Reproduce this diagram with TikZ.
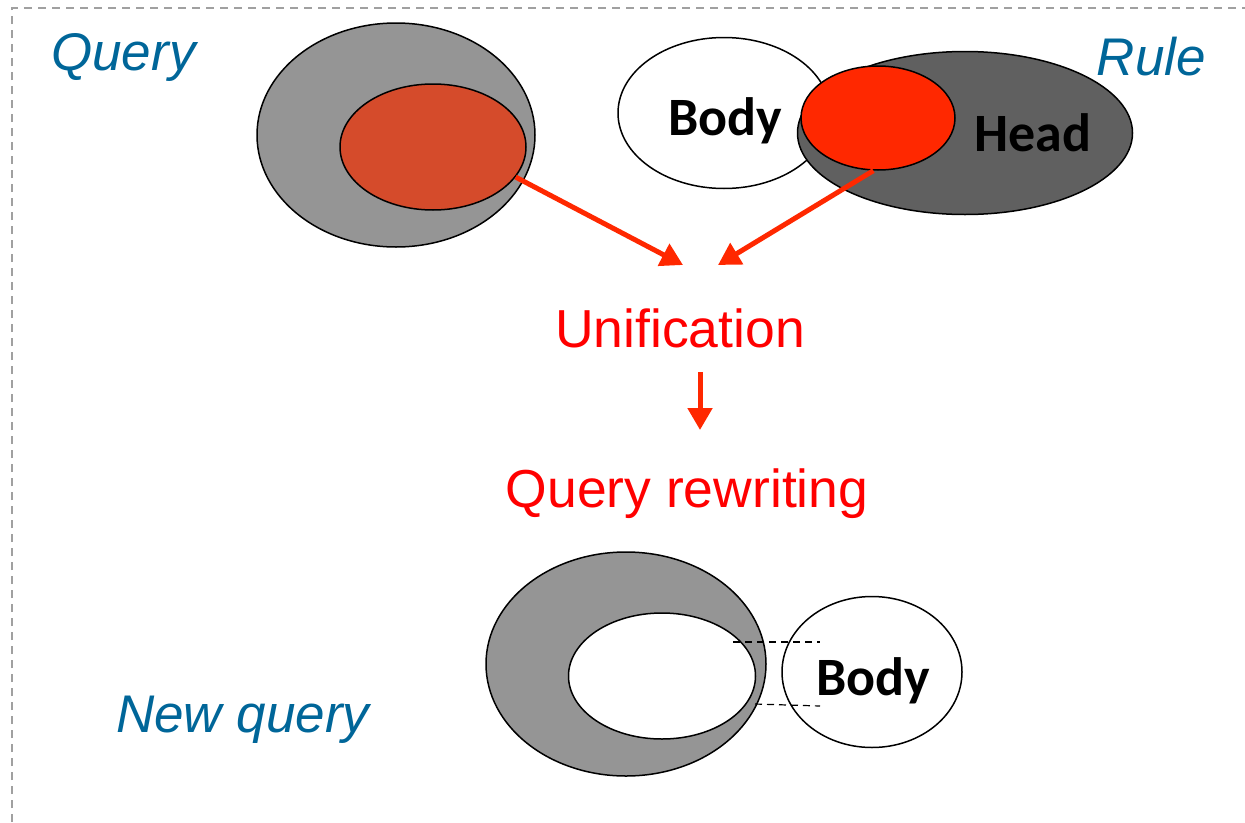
\documentclass[tikz,border=0pt]{standalone}
\usepackage{fontspec}
\setmainfont{Liberation Sans}
\newfontfamily\calibrifont{Carlito}
\usetikzlibrary{arrows.meta,shapes.geometric}
\definecolor{labelblue}{RGB}{0,102,153}
\definecolor{softgray}{RGB}{149,149,149}
\definecolor{darkgray}{RGB}{96,96,96}
\definecolor{brickred}{RGB}{213,75,43}
\definecolor{brightred}{RGB}{255,40,0}
\definecolor{textred}{RGB}{255,0,0}
\definecolor{framegray}{RGB}{160,160,160}
\tikzset{
  blob/.style={ellipse, draw=black, line width=1.5pt, inner sep=0pt},
  title/.style={font=\fontsize{53}{60}\selectfont\itshape, text=labelblue, inner sep=0pt},
  steplabel/.style={font=\fontsize{53.5}{60}\selectfont, text=textred, inner sep=0pt},
  partlabel/.style={font=\calibrifont\bfseries\fontsize{54}{60}\selectfont, inner sep=0pt},
  flow/.style={draw=brightred, line width=5pt, -{Triangle[length=22pt,width=24pt]}},
  frame/.style={draw=framegray, line width=1.5pt, dash pattern=on 8pt off 6pt},
  link/.style={draw=black, line width=1.2pt, dash pattern=on 7pt off 5pt}
}
\begin{document}
\begin{tikzpicture}[x=1pt,y=-1pt]
\useasboundingbox (0,0) rectangle (1245,822);
\fill[white] (0,0) rectangle (1245,822);
\draw[frame] (12,822) |- (1245,8);

% query
\node[blob, fill=softgray, minimum width=278pt, minimum height=224pt] (qout) at (396,135) {};
\node[blob, fill=brickred, minimum width=186pt, minimum height=126pt] (qin) at (433,147) {};

% rule: body and head
\node[blob, fill=white, minimum width=212pt, minimum height=151pt] (rbody) at (724,113) {};
\node[blob, fill=darkgray, minimum width=335pt, minimum height=163pt] (rhead) at (965,133) {};
\node[blob, fill=brightred, minimum width=154pt, minimum height=104pt] (hin) at (878,118) {};
\node[partlabel] at (725,121) {Body};
\node[partlabel] at (1033,133) {Head};

% labels
\node[title, anchor=west] (lq) at (51,57) {Query};
\node[title, anchor=east] (lr) at (1206,57) {Rule};
\node[title, anchor=west] (lnq) at (116,720) {New query};

% steps
\node[steplabel] (uni) at (680,328) {Unification};
\node[steplabel] (rew) at (687,494) {Query rewriting};

\coordinate (ua) at (683,265);
\coordinate (ub) at (718,265);
\coordinate (da) at (700,372);
\coordinate (db) at (700,430);
\draw[flow] (qin.-20) -- (ua);
\draw[flow] (hin.-95) -- (ub);
\draw[flow] (da) -- (db);

% new query
\node[blob, fill=softgray, minimum width=280pt, minimum height=224pt] (nout) at (626,664) {};
\node[blob, fill=white, minimum width=187pt, minimum height=126pt] (nin) at (662,676) {};
\node[blob, fill=white, minimum width=180pt, minimum height=151pt] (nbody) at (872,672) {};
\node[partlabel] at (873,681) {Body};

\coordinate (la) at (733,642);
\coordinate (lb) at (820,642);
\coordinate (lc) at (755,704);
\coordinate (ld) at (820,706);
\draw[link] (la) -- (lb);
\draw[link] (lc) -- (ld);
\end{tikzpicture}
\end{document}
